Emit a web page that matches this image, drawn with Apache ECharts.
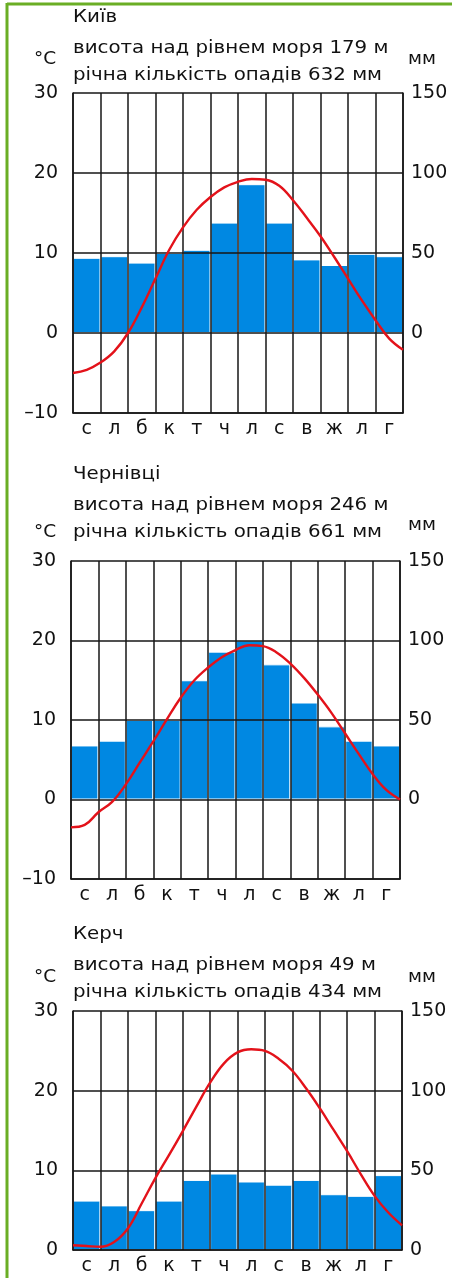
<!DOCTYPE html>
<html><head><meta charset="utf-8">
<script src="https://cdn.jsdelivr.net/npm/echarts@6/dist/echarts.min.js"></script>
<style>html,body{margin:0;padding:0;background:#fff}#c{width:452px;height:1278px}</style>
</head><body><div id="c"></div>
<script>
// Month initials (Ukrainian)
const months = ['с','л','б','к','т','ч','л','с','в','ж','л','г'];
// positions (in months from start of January) where the temperature curve was read
const tempPos = [0,0.5,1,1.5,2,2.5,3,3.5,4,4.5,5,5.5,6,6.5,7,7.5,8,8.5,9,9.5,10,10.5,11,11.5,12];

// Київ
const kyivPrecip = [47,48,44,50,52,69,93,69,46,42.5,49.5,48];
const kyivTemp = [-5.0,-4.6,-3.7,-2.3,0.0,3.2,6.8,10.4,13.2,15.4,17.0,18.2,18.9,19.25,19.15,18.4,16.6,14.4,12.1,9.5,6.8,4.1,1.6,-0.7,-2.1];
// Чернівці
const chernPrecip = [34,37,50,50,75,93,100,85,61,46,37,34];
const chernTemp = [-3.5,-3.2,-1.6,-0.3,1.9,4.6,7.3,10.1,12.8,15.0,16.6,17.9,18.8,19.4,19.3,18.5,17.1,15.3,13.2,10.9,8.3,5.7,3.2,1.2,0.0];
// Керч
const kerchPrecip = [31,28,25,31,44,48,43,41,44,35,34,47];
const kerchTemp = [0.6,0.5,0.4,1.0,2.7,5.8,9.0,11.9,14.9,18.0,21.0,23.4,24.8,25.2,25.0,24.0,22.5,20.3,17.8,15.1,12.4,9.5,6.8,4.7,3.1];

const stationNames = ['Київ','Чернівці','Керч'];
const altitudeLines = ['висота над рівнем моря 179 м','висота над рівнем моря 246 м','висота над рівнем моря 49 м'];
const precipLines = ['річна кількість опадів 632 мм','річна кількість опадів 661 мм','річна кількість опадів 434 мм'];
const tempMin = [-10,-10,0];
const precipMin = [-50,-50,0];
const precipSeries = [kyivPrecip, chernPrecip, kerchPrecip];
const tempSeries = [kyivTemp, chernTemp, kerchTemp];

// layout
const grids = [
  {left:73, top:93, width:330, height:320},
  {left:71, top:561, width:329, height:318},
  {left:73, top:1011, width:329, height:239}
];
const textY = [
  {name:17, alt:48, pr:75, degC:59, mm:59},
  {name:474, alt:505, pr:532, degC:532, mm:525.5},
  {name:934, alt:965.5, pr:992, degC:977, mm:977}
];

const FONT = 'DejaVu Sans';
const BLUE = '#0088e2';
const RED = '#e3121a';
const INK = '#111';
const LINE = '#161616';

const xAxis = [], yAxis = [], series = [], graphic = [];
grids.forEach((g, i) => {
  xAxis.push({
    type:'category', gridIndex:i, data:months, boundaryGap:true, z:5,
    axisLine:{show:true, onZero:false, lineStyle:{color:LINE, width:1.5}},
    axisTick:{show:false},
    splitLine:{show:true, interval:0, lineStyle:{color:LINE, width:1.5}},
    axisLabel:{interval:0, fontFamily:FONT, fontSize:19, color:INK, margin:7}
  });
  xAxis.push({type:'value', gridIndex:i, min:0, max:12, show:false});
  yAxis.push({
    type:'value', gridIndex:i, min:tempMin[i], max:30, interval:10, z:5,
    axisLine:{show:true, lineStyle:{color:LINE, width:1.5}},
    axisTick:{show:false},
    splitLine:{show:true, lineStyle:{color:LINE, width:1.5}},
    axisLabel:{fontFamily:FONT, fontSize:19, color:INK, margin:15,
      formatter:v => v < 0 ? '\u2013' + (-v) : String(v)}
  });
  yAxis.push({
    type:'value', gridIndex:i, position:'right', min:precipMin[i], max:150, interval:50, z:5,
    axisLine:{show:true, lineStyle:{color:LINE, width:1.5}},
    axisTick:{show:false},
    splitLine:{show:false},
    axisLabel:{fontFamily:FONT, fontSize:19, color:INK, margin:8,
      formatter:v => v < 0 ? '' : String(v)}
  });
  series.push({
    type:'bar', xAxisIndex:2*i, yAxisIndex:2*i+1, data:precipSeries[i],
    barCategoryGap:'0%', z:2, silent:true,
    itemStyle:{color:BLUE, borderColor:'#ffffff', borderWidth:1}
  });
  series.push({
    type:'line', xAxisIndex:2*i+1, yAxisIndex:2*i, smooth:0.4, showSymbol:false, z:10, silent:true,
    data:tempPos.map((p,k) => [p, tempSeries[i][k]]),
    lineStyle:{color:RED, width:2.4}
  });
  const ty = textY[i];
  const txt = (x, y, s, sx) => ({type:'text', x:x, y:y, scaleX:sx, style:{text:s, font:'18.5px "' + FONT + '"', fill:INK, verticalAlign:'middle', align:'left'}});
  graphic.push(txt(73, ty.name, stationNames[i], 1.07));
  graphic.push(txt(73, ty.alt, altitudeLines[i], 1.07));
  graphic.push(txt(73, ty.pr, precipLines[i], 1.07));
  graphic.push(txt(34, ty.degC, '°C', 1.0));
  graphic.push(txt(408, ty.mm, 'мм', 1.0));
});
// green frame
graphic.push({type:'line', shape:{x1:7, y1:4, x2:452, y2:4}, style:{stroke:'#6aae25', lineWidth:3}});
graphic.push({type:'line', shape:{x1:7, y1:3, x2:7, y2:1278}, style:{stroke:'#6aae25', lineWidth:3}});

const chart = echarts.init(document.getElementById('c'), null, {renderer:'canvas'});
chart.setOption({
  animation:false,
  backgroundColor:'#ffffff',
  grid:grids.map(g => Object.assign({containLabel:false}, g)),
  xAxis, yAxis, series, graphic
});
</script>
</body></html>
